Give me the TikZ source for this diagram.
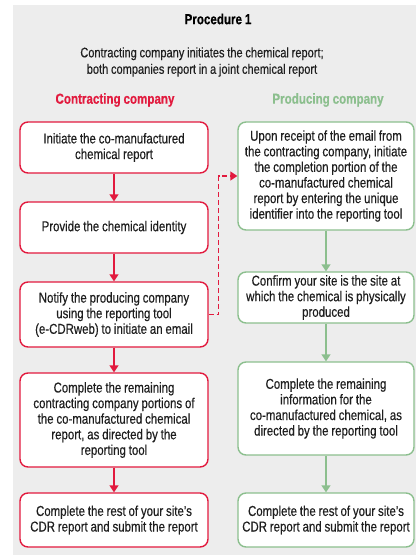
\documentclass[tikz,border=0pt]{standalone}
\usepackage{fontspec}
\setmainfont[FakeStretch=0.8, WordSpace=0.9, FakeBold=0.4]{Liberation Sans}
\usepackage{tikz}
\usetikzlibrary{arrows.meta}
\definecolor{rojo}{HTML}{E21A3E}
\definecolor{verde}{HTML}{8CBF8E}
\definecolor{fundo}{HTML}{EDEDED}
\definecolor{texto}{HTML}{1E1E1E}

\begin{document}
\begin{tikzpicture}[x=1pt,y=-1pt]
\tikzstyle{caixa}=[rectangle, rounded corners=8pt, fill=white, line width=1.4pt, align=center, font=\fontsize{14.3}{15.6}\selectfont, text=texto, inner sep=2pt]
\tikzstyle{contrat}=[caixa, draw=rojo, minimum width=188pt]
\tikzstyle{produt}=[caixa, draw=verde, minimum width=176pt]
\tikzstyle{seta}=[line width=1.4pt, -{Triangle[width=9pt,length=7pt]}]
 \useasboundingbox (0,0) rectangle (416,555);
 \fill[fundo] (13,5) rectangle (416,555);
 % titulos
 \node[font=\bfseries\fontsize{14.5}{15}\selectfont, text=black] (titulo) at (218,19) {Procedure 1};
 \node[align=center, font=\fontsize{13.8}{16.5}\selectfont, text=texto] (subtitulo) at (202,62)
    {Contracting company initiates the chemical report;\\ both companies report in a joint chemical report};
 \node[font=\bfseries\fontsize{14.5}{15}\selectfont, text=rojo] (ladoA) at (115,100) {Contracting company};
 \node[font=\bfseries\fontsize{14.5}{15}\selectfont, text=verde] (ladoB) at (328,100) {Producing company};
 % contracting company
 \node[contrat, minimum height=51pt] (a1) at (114,147.5) {Initiate the co-manufactured\\ chemical report};
 \node[contrat, minimum height=51pt] (a2) at (114,227.5) {Provide the chemical identity};
 \node[contrat, minimum height=65pt] (a3) at (114,314.5) {Notify the producing company\\ using the reporting tool\\ (e-CDRweb) to initiate an email};
 \node[contrat, minimum height=94pt] (a4) at (114,420) {Complete the remaining\\ contracting company portions of\\ the co-manufactured chemical\\ report, as directed by the\\ reporting tool};
 \node[contrat, minimum height=54pt] (a5) at (114,520) {Complete the rest of your site's\\ CDR report and submit the report};
 % producing company
 \node[produt, minimum height=108pt] (b1) at (326,176) {Upon receipt of the email from\\ the contracting company, initiate\\ the completion portion of the\\ co-manufactured chemical\\ report by entering the unique\\ identifier into the reporting tool};
 \node[produt, minimum height=51pt] (b2) at (326,297.5) {Confirm your site is the site at\\ which the chemical is physically\\ produced};
 \node[produt, minimum height=93pt] (b3) at (326,408.5) {Complete the remaining\\ information for the\\ co-manufactured chemical, as\\ directed by the reporting tool};
 \node[produt, minimum height=54pt] (b4) at (326,520) {Complete the rest of your site's\\ CDR report and submit the report};
 % setas
 \draw[seta, rojo] (a1) -- (a2);
 \draw[seta, rojo] (a2) -- (a3);
 \draw[seta, rojo] (a3) -- (a4);
 \draw[seta, rojo] (a4) -- (a5);
 \draw[seta, verde] (b1) -- (b2);
 \draw[seta, verde] (b2) -- (b3);
 \draw[seta, verde] (b3) -- (b4);
 \draw[seta, rojo, dash pattern=on 5pt off 3pt] (a3.east) -- ++(10,0) |- (b1.west);
\end{tikzpicture}
\end{document}
